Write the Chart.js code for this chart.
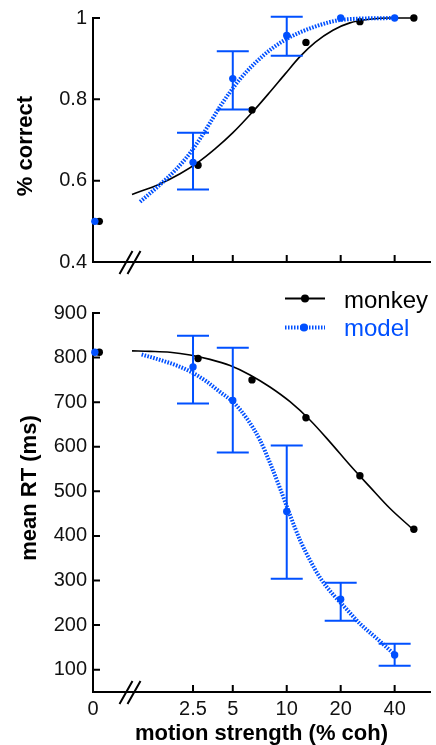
<!DOCTYPE html>
<html>
<head>
<meta charset="utf-8">
<script src="https://cdn.jsdelivr.net/npm/chart.js@4"></script>
<style>
  body { margin: 0; background: #fff; }
  canvas { position: absolute; left: 0; }
  #accChart { top: 0; }
  #rtChart { top: 280px; }
</style>
</head>
<body>
<canvas id="accChart" width="436" height="280"></canvas>
<canvas id="rtChart" width="436" height="465"></canvas>
<script>
// motion strength (% coh) of each condition, 0 = no coherent motion
const monkeyCoh = [0, 3.2, 6.4, 12.8, 25.6, 51.2];
const modelCoh = [0, 3, 5, 10, 20, 40];

// proportion correct
const monkeyAcc = [0.5, 0.638, 0.774, 0.94, 0.991, 1.0];
const modelAcc = [0.5, 0.645, 0.851, 0.957, 1.0, 1.0];
const modelAccLo = [null, 0.578, 0.775, 0.907, null, null];
const modelAccHi = [null, 0.718, 0.918, 1.003, null, null];

// mean reaction time (ms)
const monkeyRt = [812, 798, 750, 665, 535, 415];
const modelRt = [812, 779, 704, 455, 258, 133];
const modelRtLo = [null, 697, 587, 304, 210, 109];
const modelRtHi = [null, 849, 822, 603, 295, 158];

// fitted curves
const monkeyAccFitCoh = [1.37, 1.96, 2.54, 3.2, 3.98, 5.01, 6.48, 8.06, 9.78, 11.85, 14.4, 18.1, 22.5, 29.1, 37.6, 51.2];
const monkeyAccFit = [0.566, 0.592, 0.617, 0.645, 0.678, 0.718, 0.770, 0.818, 0.862, 0.905, 0.940, 0.970, 0.988, 0.997, 1.0, 1.0];
const modelAccFitCoh = [1.52, 1.96, 2.38, 2.89, 3.28, 3.73, 4.24, 4.83, 5.49, 6.65, 8.27, 10.43, 14.0, 20.6, 40];
const modelAccFit = [0.548, 0.590, 0.625, 0.668, 0.703, 0.742, 0.782, 0.818, 0.850, 0.889, 0.925, 0.953, 0.977, 0.996, 1.0];

const monkeyRtFitCoh = [1.37, 1.73, 2.23, 2.89, 3.73, 4.83, 6.24, 8.06, 10.43, 13.47, 17.4, 22.5, 29.1, 37.6, 51.2];
const monkeyRtFit = [815, 814, 812, 806, 796, 782, 761, 734, 701, 660, 611, 559, 510, 462, 413];
const modelRtFitCoh = [1.55, 1.96, 2.44, 2.92, 3.58, 4.24, 5.03, 6.0, 7.09, 8.06, 9.17, 10.43, 11.85, 13.47, 15.3, 18.1, 21.1, 25.5, 33.1, 40.4];
const modelRtFit = [807, 795, 782, 768, 746, 723, 700, 663, 615, 564, 507, 447, 391, 346, 307, 269, 240, 204, 164, 132];

// axes
const xTickCoh = [0, 3, 5, 10, 20, 40];
const xTickLabels = ['0', '2.5', '5', '10', '20', '40'];
const accTicks = [0.4, 0.6, 0.8, 1];
const accTickLabels = ['0.4', '0.6', '0.8', '1'];
const rtTicks = [100, 200, 300, 400, 500, 600, 700, 800, 900];

const BLUE = '#0050ff';
const X_MIN = 0.83, X_MAX = 63;   // log axis; 0% coh sits at the left end

Chart.defaults.font.family = '"Liberation Sans", Arial, sans-serif';
Chart.defaults.color = '#111';

// 0% coh has no place on a log axis, so it goes at the left edge (after the break)
function xPos(c, zeroAt) {
    return c === 0 ? zeroAt : c;
}
function pts(xs, ys, zeroAt) {
    return xs.map((c, i) => ({ x: xPos(c, zeroAt), y: ys[i] }));
}

// inward tick marks, the axis break and the y title
const axisExtras = {
    id: 'axisExtras',
    afterDraw(chart, args, opts) {
        const ctx = chart.ctx, xs = chart.scales.x, ys = chart.scales.y, a = chart.chartArea;
        ctx.save();
        ctx.strokeStyle = '#000';
        ctx.lineWidth = 2;
        ctx.beginPath();
        ys.ticks.forEach(t => {
            const py = ys.getPixelForValue(t.value);
            ctx.moveTo(a.left, py);
            ctx.lineTo(a.left + 7, py);
        });
        xTickCoh.forEach(c => {
            if (c === 0) return;
            const px = xs.getPixelForValue(c);
            ctx.moveTo(px, a.bottom);
            ctx.lineTo(px, a.bottom - 7);
        });
        // axis break "//"
        [33, 41].forEach(dx => {
            const cx = a.left + dx;
            ctx.moveTo(cx - 6.5, a.bottom + 12);
            ctx.lineTo(cx + 6.5, a.bottom - 11);
        });
        ctx.stroke();

        ctx.fillStyle = '#000';
        ctx.font = 'bold 22px "Liberation Sans", Arial, sans-serif';
        ctx.textAlign = 'center';
        ctx.textBaseline = 'middle';
        ctx.translate(opts.titleX, opts.titleY);
        ctx.rotate(-Math.PI / 2);
        ctx.fillText(opts.title, 0, 0);
        ctx.restore();
    }
};

// model error bars
const errorBars = {
    id: 'errorBars',
    afterDatasetsDraw(chart, args, opts) {
        const ctx = chart.ctx, xs = chart.scales.x, ys = chart.scales.y;
        ctx.save();
        ctx.strokeStyle = BLUE;
        ctx.lineWidth = 2;
        ctx.beginPath();
        opts.coh.forEach((c, i) => {
            if (opts.lo[i] == null) return;
            const px = xs.getPixelForValue(c);
            const p1 = ys.getPixelForValue(opts.lo[i]);
            const p2 = ys.getPixelForValue(opts.hi[i]);
            ctx.moveTo(px, p1); ctx.lineTo(px, p2);
            ctx.moveTo(px - 16, p1); ctx.lineTo(px + 16, p1);
            ctx.moveTo(px - 16, p2); ctx.lineTo(px + 16, p2);
        });
        ctx.stroke();
        ctx.restore();
    }
};

// legend with line + marker samples
const lineLegend = {
    id: 'lineLegend',
    afterDraw(chart) {
        const ctx = chart.ctx;
        ctx.save();
        ctx.font = '24px "Liberation Sans", Arial, sans-serif';
        ctx.textBaseline = 'alphabetic';

        ctx.strokeStyle = '#000';
        ctx.lineWidth = 2;
        ctx.beginPath(); ctx.moveTo(285, 18.5); ctx.lineTo(325, 18.5); ctx.stroke();
        ctx.fillStyle = '#000';
        ctx.beginPath(); ctx.arc(305, 18.5, 4, 0, Math.PI * 2); ctx.fill();
        ctx.fillText('monkey', 344, 28);

        ctx.strokeStyle = BLUE;
        ctx.lineWidth = 4;
        ctx.setLineDash([1.5, 1.5]);
        ctx.beginPath(); ctx.moveTo(285, 47.5); ctx.lineTo(325, 47.5); ctx.stroke();
        ctx.setLineDash([]);
        ctx.fillStyle = BLUE;
        ctx.beginPath(); ctx.arc(304, 47.5, 4, 0, Math.PI * 2); ctx.fill();
        ctx.fillText('model', 344, 56);
        ctx.restore();
    }
};

function datasets(modelY, modelFitX, modelFitY, monkeyY, monkeyFitX, monkeyFitY) {
    return [
        {
            data: pts(modelCoh, modelY, 0.85),
            showLine: false, pointRadius: 3.7, pointBackgroundColor: BLUE,
            pointBorderWidth: 0, clip: false
        },
        {
            data: pts(modelFitX, modelFitY),
            showLine: true, borderColor: BLUE, borderWidth: 4, borderDash: [1.6, 1.4],
            pointRadius: 0, cubicInterpolationMode: 'monotone', clip: false
        },
        {
            data: pts(monkeyCoh, monkeyY, 0.9),
            showLine: false, pointRadius: 3.7, pointBackgroundColor: '#000',
            pointBorderWidth: 0, clip: false
        },
        {
            data: pts(monkeyFitX, monkeyFitY),
            showLine: true, borderColor: '#000', borderWidth: 1.6,
            pointRadius: 0, cubicInterpolationMode: 'monotone', clip: false
        }
    ];
}

function xScale(showLabels) {
    return {
        type: 'logarithmic',
        min: X_MIN, max: X_MAX, bounds: 'data',
        grid: { display: false, drawTicks: false },
        border: { display: true, color: '#000', width: 2 },
        afterBuildTicks: s => { s.ticks = xTickCoh.map(c => ({ value: xPos(c, X_MIN) })); },
        ticks: {
            display: showLabels, autoSkip: false, maxRotation: 0, padding: 5,
            font: { size: 20 }, color: '#111',
            callback: (v, i) => xTickLabels[i]
        },
        title: {
            display: showLabels, text: 'motion strength (% coh)', color: '#000',
            font: { size: 22, weight: 'bold', lineHeight: 1 }, padding: 0
        },
        afterFit: s => { s.height = showLabels ? 53 : 0; }
    };
}

new Chart(document.getElementById('accChart'), {
    type: 'scatter',
    data: { datasets: datasets(modelAcc, modelAccFitCoh, modelAccFit, monkeyAcc, monkeyAccFitCoh, monkeyAccFit) },
    options: {
        responsive: false, animation: false, events: [],
        layout: { padding: { left: 0, right: 6, top: 17, bottom: 18 } },
        plugins: {
            legend: { display: false }, tooltip: { enabled: false },
            errorBars: { coh: modelCoh, lo: modelAccLo, hi: modelAccHi },
            axisExtras: { title: '% correct', titleX: 26, titleY: 146 }
        },
        scales: {
            x: xScale(false),
            y: {
                min: 0.4, max: 1, bounds: 'data',
                grid: { display: false, drawTicks: false },
                border: { display: true, color: '#000', width: 2 },
                afterBuildTicks: s => { s.ticks = accTicks.map(v => ({ value: v })); },
                ticks: { padding: 6, font: { size: 20 }, color: '#111', callback: (v, i) => accTickLabels[i] },
                afterFit: s => { s.width = 93; }
            }
        }
    },
    plugins: [errorBars, axisExtras]
});

new Chart(document.getElementById('rtChart'), {
    type: 'scatter',
    data: { datasets: datasets(modelRt, modelRtFitCoh, modelRtFit, monkeyRt, monkeyRtFitCoh, monkeyRtFit) },
    options: {
        responsive: false, animation: false, events: [],
        layout: { padding: { left: 0, right: 6, top: 33, bottom: 0 } },
        plugins: {
            legend: { display: false }, tooltip: { enabled: false },
            errorBars: { coh: modelCoh, lo: modelRtLo, hi: modelRtHi },
            axisExtras: { title: 'mean RT (ms)', titleX: 30, titleY: 208 }
        },
        scales: {
            x: xScale(true),
            y: {
                min: 50, max: 900, bounds: 'data',
                grid: { display: false, drawTicks: false },
                border: { display: true, color: '#000', width: 2 },
                afterBuildTicks: s => { s.ticks = rtTicks.map(v => ({ value: v })); },
                ticks: { padding: 6, font: { size: 20 }, color: '#111' },
                afterFit: s => { s.width = 93; }
            }
        }
    },
    plugins: [errorBars, axisExtras, lineLegend]
});
</script>
</body>
</html>
